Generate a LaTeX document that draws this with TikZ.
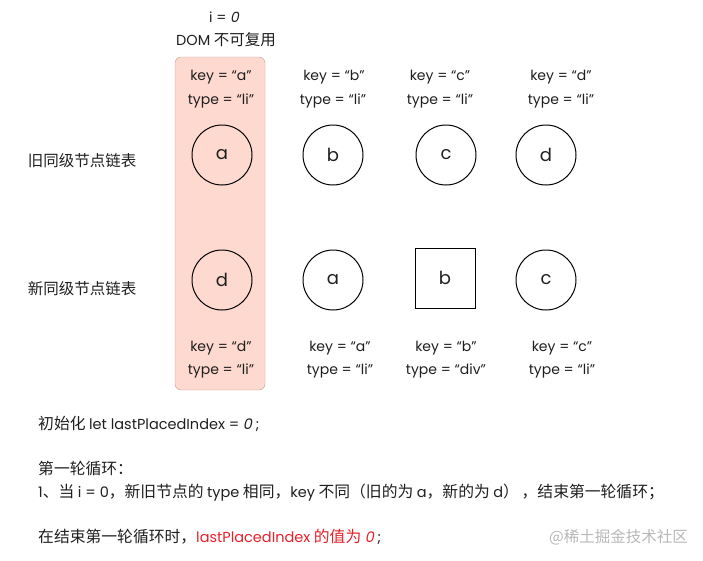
\documentclass[tikz,border=0pt]{standalone}
\usepackage{fontspec}
\setmainfont{Noto Sans CJK SC}
\newfontfamily\lat{Poppins}
\newfontfamily\latsl[FakeSlant=0.2]{Poppins}
\definecolor{hlfill}{HTML}{FDD9CF}
\definecolor{hldraw}{HTML}{C49A92}
\definecolor{wmark}{HTML}{B8B8B8}
\definecolor{redtxt}{HTML}{E8202A}
\newcommand{\LL}[1]{{\lat\fontsize{14.5}{17}\selectfont #1}}
\newcommand{\LS}[1]{{\latsl\fontsize{14.5}{17}\selectfont #1}}
\begin{document}
\begin{tikzpicture}[x=1pt,y=-1pt,
  every node/.style={inner sep=0pt, text=black!88},
  lbl/.style={font=\lat\fontsize{14}{16}\selectfont, align=center},
  circ/.style={draw, circle, line width=1pt, minimum size=60pt, font=\lat\fontsize{18}{20}\selectfont},
  sq/.style={draw, line width=1pt, minimum size=60pt, font=\lat\fontsize{18}{20}\selectfont},
  body/.style={font=\fontsize{15.8}{18}\selectfont, anchor=west},
  rowlbl/.style={font=\fontsize{15.5}{18}\selectfont}]
\useasboundingbox (0,0) rectangle (703,560);
\draw[fill=hlfill, draw=hldraw, rounded corners=6pt] (175,57) rectangle (265,390);
\node[lbl] (i0) at (224,17) {i = {\latsl 0}};
\node[font=\fontsize{15.5}{18}\selectfont] (dom) at (226,40) {\LL{DOM} 不可复用};
% old row
\node[lbl] (ka) at (221,77) {key = “a”};
\node[lbl] (ta) at (221,101) {type = “li”};
\node[lbl] (kb) at (334,77) {key = “b”};
\node[lbl] (tb) at (333,101) {type = “li”};
\node[lbl] (kc) at (440,77) {key = “c”};
\node[lbl] (tc) at (440,101) {type = “li”};
\node[lbl] (kd) at (561,77) {key = “d”};
\node[lbl] (td) at (561,101) {type = “li”};
\node[circ] (oa) at (222,155) {a};
\node[circ] (ob) at (333,155) {b};
\node[circ] (oc) at (446,155) {c};
\node[circ] (od) at (546,155) {d};
\node[rowlbl] (old) at (82,161) {旧同级节点链表};
\node[rowlbl] (new) at (82,289) {新同级节点链表};
% new row
\node[circ] (nd) at (222,280) {d};
\node[circ] (na) at (333,280) {a};
\node[sq] (nb) at (445,278) {b};
\node[circ] (nc) at (546,280) {c};
\node[lbl] (knd) at (221,348) {key = “d”};
\node[lbl] (tnd) at (221,371) {type = “li”};
\node[lbl] (kna) at (340,348) {key = “a”};
\node[lbl] (tna) at (340,371) {type = “li”};
\node[lbl] (knb) at (446,348) {key = “b”};
\node[lbl] (tnb) at (446,371) {type = “div”};
\node[lbl] (knc) at (562,348) {key = “c”};
\node[lbl] (tnc) at (562,371) {type = “li”};
% text
\node[body] (t1) at (38,424) {初始化 \LL{let lastPlacedIndex =} \LS{0} \LL{;}};
\node[body] (t2) at (38,469) {第一轮循环：};
\node[body] (t3) at (38,493) {\LL{1}、当 \LL{i = 0}，新旧节点的 \LL{type} 相同，\LL{key} 不同（旧的为 \LL{a}，新的为 \LL{d}）\,，结束第一轮循环；};
\node[body] (t4) at (38,537) {在结束第一轮循环时，\textcolor{redtxt}{\LL{lastPlacedIndex} 的值为 \LS{0}} \LL{;}};
\node[font=\fontsize{15.5}{18}\selectfont, text=wmark, anchor=east] (wm) at (688,537) {@稀土掘金技术社区};
\end{tikzpicture}
\end{document}
